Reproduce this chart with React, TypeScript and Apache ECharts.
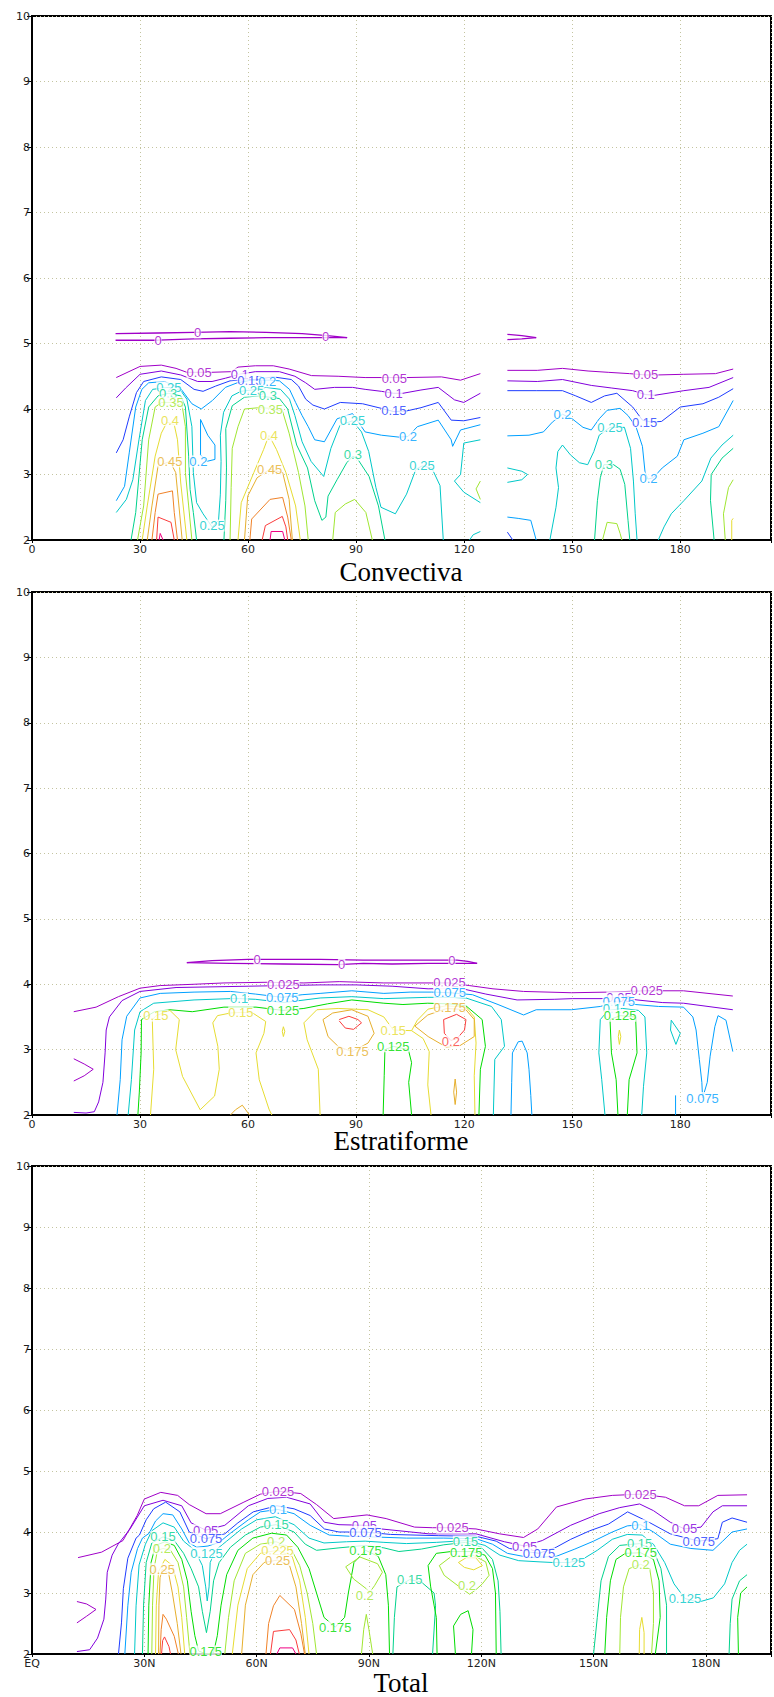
import React, { useEffect, useRef } from 'react';
import * as echarts from 'echarts';

type Line = { v: string; p: number[][] };

// ---------- tick labels ----------
const NUM_XTICKS = ['0', '30', '60', '90', '120', '150', '180'];
const LAT_XTICKS = ['EQ', '30N', '60N', '90N', '120N', '150N', '180N'];
const TITLES = ['Convectiva', 'Estratiforme', 'Total'];

// ---------- colours per contour level ----------
const CONV_COLORS: Record<string, string> = {
  '0': '#a000c8', '0.05': '#a000c8', '0.1': '#8200dc', '0.15': '#1e3cff', '0.2': '#00a0ff',
  '0.25': '#00c8c8', '0.3': '#00d28c', '0.35': '#a0e632', '0.4': '#e6dc32', '0.45': '#e6af2d',
  '0.5': '#f08228', '0.55': '#fa3c3c', '0.6': '#f00082',
};
const STRAT_COLORS: Record<string, string> = {
  '0': '#a000c8', '0.025': '#a000c8', '0.05': '#8200dc', '0.075': '#00a0ff', '0.1': '#00c8c8',
  '0.125': '#00dc00', '0.15': '#e6dc32', '0.175': '#e6af2d', '0.2': '#fa3c3c',
};
const TOTAL_COLORS: Record<string, string> = {
  '0.025': '#a000c8', '0.05': '#8200dc', '0.075': '#1e3cff', '0.1': '#00a0ff', '0.125': '#00c8c8',
  '0.15': '#00d28c', '0.175': '#00dc00', '0.2': '#a0e632', '0.225': '#e6dc32', '0.25': '#e6af2d',
  '0.275': '#f08228', '0.3': '#fa3c3c', '0.325': '#f00082',
};

// ---------- Convectiva contours (x: degrees, y: km) ----------
const CONV_LINES: Line[] = [
  { v: '0', p: [[23.2, 5.15], [35, 5.16], [45, 5.17], [55, 5.18], [65, 5.17], [75, 5.15], [82, 5.12], [87.5, 5.09]] },
  { v: '0', p: [[23.2, 5.05], [35, 5.05], [45, 5.07], [55, 5.08], [65, 5.09], [75, 5.09], [82, 5.09], [87.5, 5.09]] },
  { v: '0', p: [[132, 5.14], [136, 5.12], [140, 5.09]] },
  { v: '0', p: [[132, 5.06], [136, 5.07], [140, 5.09]] },
  { v: '0.05', p: [[23.4, 4.48], [30, 4.65], [35.9, 4.67], [40, 4.62], [43, 4.56], [49.7, 4.56], [55.4, 4.57], [57.2, 4.64], [62, 4.66], [67, 4.66], [71.4, 4.61], [77.6, 4.51], [85, 4.5], [92.5, 4.48], [97, 4.48], [104, 4.48], [113.7, 4.49], [119, 4.44], [124.5, 4.54]] },
  { v: '0.05', p: [[132, 4.59], [140.3, 4.59], [147.3, 4.62], [154.4, 4.58], [160, 4.56], [165.9, 4.54], [170.4, 4.52], [173.9, 4.52], [181, 4.53], [189.8, 4.54], [194.7, 4.61]] },
  { v: '0.1', p: [[23.4, 4.17], [26, 4.32], [30, 4.53], [35.9, 4.58], [41.3, 4.52], [46, 4.42], [50, 4.42], [53.7, 4.47], [57.7, 4.53], [62, 4.57], [68.7, 4.57], [73, 4.5], [76, 4.4], [78.5, 4.3], [84, 4.33], [89, 4.33], [92.5, 4.3], [97, 4.27], [100.4, 4.24], [103, 4.24], [108, 4.29], [112.8, 4.33], [117.3, 4.14], [119.9, 4.1], [124.5, 4.24]] },
  { v: '0.1', p: [[132, 4.43], [140.3, 4.42], [147.3, 4.45], [155.3, 4.36], [161, 4.32], [166.8, 4.28], [170.4, 4.22], [173, 4.21], [181, 4.28], [188, 4.33], [194.7, 4.48]] },
  { v: '0.15', p: [[23.4, 3.33], [25.3, 3.53], [27, 3.88], [29, 4.25], [31, 4.42], [35.9, 4.49], [41.3, 4.45], [45, 4.3], [47.5, 4.27], [51, 4.35], [55, 4.43], [59, 4.45], [62, 4.45], [67, 4.49], [72, 4.45], [74, 4.35], [76, 4.15], [78, 4.06], [81.2, 4.0], [85.6, 4.1], [91.8, 4.08], [97, 4.01], [100.5, 3.96], [104, 3.97], [108, 4.02], [112.8, 4.1], [116.4, 3.83], [119.9, 3.82], [124.5, 3.87]] },
  { v: '0.15', p: [[132, 4.28], [140, 4.28], [147.3, 4.28], [151, 4.2], [155.3, 4.1], [159, 4.2], [162.4, 4.24], [166.8, 4.03], [169.5, 3.83], [172, 3.8], [174.8, 3.81], [180, 4.03], [186.3, 4.08], [190.7, 4.18], [194.7, 4.31]] },
  { v: '0.15', p: [[132, 2.12], [133.5, 2.0]] },
  { v: '0.2', p: [[23.4, 2.6], [25.7, 2.82], [27, 3.33], [28.8, 4.03], [30.5, 4.3], [32.4, 4.4], [36.8, 4.42], [41.3, 4.31], [44.4, 4.08], [47, 4.0], [50.1, 4.13], [53.7, 4.33], [57, 4.4], [60.8, 4.44], [66, 4.44], [68.7, 4.43], [71.5, 4.3], [73.2, 4.1], [75, 3.9], [76.7, 3.73], [78.5, 3.53], [81.2, 3.5], [84.7, 3.85], [89, 3.93], [92.5, 3.65], [97, 3.6], [102, 3.57], [104.4, 3.58], [107, 3.73], [112.8, 3.83], [116.4, 3.53], [116.8, 3.43], [119, 3.68], [124.5, 3.76]] },
  { v: '0.2', p: [[46.8, 3.84], [48.8, 3.6], [50.8, 3.45], [50.8, 3.23], [48.5, 3.2], [46.8, 3.3], [46.8, 3.84]] },
  { v: '0.2', p: [[132, 3.59], [138, 3.6], [142, 3.65], [144.5, 3.8], [147.3, 3.92], [150, 3.85], [153, 3.72], [155.3, 3.68], [157.5, 3.85], [159.7, 3.98], [163.3, 4.01], [165.5, 3.9], [167.7, 3.73], [169.5, 3.43], [170.2, 3.05], [171, 2.93], [172.5, 2.95], [175, 3.1], [179.2, 3.28], [181, 3.53], [186.3, 3.63], [190.7, 3.73], [194.7, 4.13]] },
  { v: '0.2', p: [[132, 2.35], [135, 2.33], [138.5, 2.3], [140, 2.0]] },
  { v: '0.25', p: [[23.4, 2.42], [26.2, 2.62], [28, 2.92], [29.7, 3.53], [31.5, 4.13], [33.5, 4.3], [38, 4.33], [41.3, 4.28], [43, 4.15], [44.4, 3.73], [44.8, 3.03], [45.7, 2.57], [47.5, 2.4], [50, 2.2], [51.8, 2.3], [52.3, 2.7], [52.5, 3.2], [52.3, 3.6], [53.2, 3.95], [55.5, 4.2], [58, 4.27], [61, 4.29], [65, 4.33], [69, 4.3], [71.5, 4.15], [73, 3.9], [75, 3.5], [77.5, 3.2], [81, 2.97], [83, 3.4], [85.5, 3.75], [89, 3.82], [91.5, 3.65], [93.5, 3.35], [95.5, 2.8], [96.9, 2.5], [100.9, 2.4], [104, 2.7], [106.6, 3.08], [108.3, 3.13], [111, 3.1], [113.3, 2.83], [114.2, 2.0]] },
  { v: '0.25', p: [[124.5, 3.53], [119.9, 3.48], [119, 3.0], [117.3, 2.9], [119.9, 2.73], [124.5, 2.57]] },
  { v: '0.25', p: [[121.5, 2.0], [122.5, 2.08], [124.5, 2.13]] },
  { v: '0.25', p: [[132, 3.1], [136, 3.05], [137.6, 3.0], [136, 2.92], [132, 2.88]] },
  { v: '0.25', p: [[143.8, 2.0], [145.5, 2.5], [146.2, 2.8], [145.5, 3.1], [146, 3.35], [147.3, 3.45], [149.5, 3.3], [152, 3.18], [154.3, 3.15], [156, 3.35], [157.5, 3.6], [160.5, 3.72], [164.5, 3.72], [166.2, 3.4], [167, 2.9], [167.5, 2.4], [168, 2.0]] },
  { v: '0.25', p: [[173.9, 2.0], [175.5, 2.2], [177.5, 2.4], [181, 2.6], [186, 2.9], [188.5, 3.25], [191.6, 3.45], [194.7, 3.6]] },
  { v: '0.3', p: [[27.5, 2.0], [28.8, 2.42], [30.6, 3.53], [32.4, 4.03], [35, 4.2], [37.8, 4.24], [41.3, 4.2], [42.6, 4.03], [43.5, 3.28], [43.9, 2.77], [44.8, 2.42], [45.7, 2.0]] },
  { v: '0.3', p: [[53.3, 2.0], [53.8, 2.6], [54, 3.1], [53.8, 3.7], [55.6, 4.05], [59, 4.18], [63, 4.2], [68.7, 4.16], [71, 4.0], [73.5, 3.45], [76.5, 3.1], [78.5, 2.6], [80.5, 2.3], [81.6, 2.35], [82.2, 2.67], [84.7, 2.92], [87.4, 3.18], [89.1, 3.28], [90.5, 3.23], [93.6, 2.97], [96.2, 2.52], [98, 2.0]] },
  { v: '0.3', p: [[156.2, 2.0], [157, 2.6], [157.8, 2.95], [158.8, 3.15], [161.5, 3.15], [163.3, 3.08], [164.6, 2.85], [165.5, 2.3], [166, 2.0]] },
  { v: '0.3', p: [[189.4, 2.0], [188.4, 2.6], [188.6, 3.0], [191.6, 3.25], [194.7, 3.4]] },
  { v: '0.35', p: [[29.3, 2.0], [31, 2.52], [32.4, 3.53], [34.2, 4.03], [36, 4.1], [39, 4.1], [41.7, 4.05], [42.6, 3.73], [42.6, 3.03], [43.5, 2.52], [44.4, 2.0]] },
  { v: '0.35', p: [[55, 2.0], [55.3, 2.8], [55.6, 3.4], [57.2, 3.73], [59, 4.0], [63, 4.02], [66.5, 4.01], [69.6, 3.96], [71.4, 3.63], [74, 3.03], [75.8, 2.52], [76.7, 2.0]] },
  { v: '0.35', p: [[83.5, 2.0], [84.2, 2.42], [87, 2.55], [89.6, 2.62], [92.7, 2.42], [94.5, 2.0]] },
  { v: '0.35', p: [[124.5, 2.9], [123.3, 2.78], [124.5, 2.62]] },
  { v: '0.35', p: [[158.4, 2.0], [159.7, 2.27], [162.4, 2.25], [163.3, 2.1], [163.8, 2.0]] },
  { v: '0.35', p: [[192.5, 2.0], [192, 2.4], [193.4, 2.8], [194.7, 2.92]] },
  { v: '0.4', p: [[30.6, 2.0], [32, 2.52], [34.2, 3.28], [35.9, 3.63], [37.5, 3.8], [39.5, 3.76], [40.4, 3.53], [41.3, 2.87], [43, 2.0]] },
  { v: '0.4', p: [[57.2, 2.0], [58.1, 2.57], [61.6, 3.03], [64.3, 3.38], [65.8, 3.6], [67.9, 3.38], [70.5, 3.03], [73.2, 2.52], [74.5, 2.0]] },
  { v: '0.4', p: [[194.3, 2.0], [194.3, 2.3], [194.7, 2.33]] },
  { v: '0.45', p: [[32, 2.0], [33.3, 2.52], [35, 3.13], [38.3, 3.2], [39.9, 3.03], [40.8, 2.52], [41.7, 2.0]] },
  { v: '0.45', p: [[59, 2.0], [59.9, 2.67], [62.5, 2.95], [66, 3.08], [69.6, 3.03], [71.4, 2.62], [72.3, 2.0]] },
  { v: '0.5', p: [[33.3, 2.0], [34.2, 2.42], [35, 2.7], [39, 2.75], [39.5, 2.42], [40.4, 2.0]] },
  { v: '0.5', p: [[60.5, 2.0], [61, 2.32], [66.1, 2.62], [69.6, 2.65], [71, 2.35], [72, 2.0]] },
  { v: '0.55', p: [[34.6, 2.0], [35, 2.35], [38.6, 2.27], [39.5, 2.0]] },
  { v: '0.55', p: [[63.9, 2.0], [64.8, 2.22], [69.5, 2.36], [70.5, 2.2], [71, 2.0]] },
  { v: '0.6', p: [[35.3, 2.0], [35.6, 2.1], [36.4, 2.0]] },
  { v: '0.6', p: [[66.1, 2.0], [66.4, 2.13], [69.6, 2.13], [70.2, 2.0]] },
];
const CONV_LABELS: [number, number, string][] = [
  [35, 5.05, '0'], [46, 5.17, '0'], [81.5, 5.1, '0'],
  [46.4, 4.56, '0.05'], [100.6, 4.47, '0.05'], [170.4, 4.52, '0.05'],
  [57.7, 4.53, '0.1'], [100.4, 4.24, '0.1'], [170.4, 4.22, '0.1'],
  [60.5, 4.44, '0.15'], [100.5, 3.97, '0.15'], [170.1, 3.8, '0.15'],
  [65.3, 4.42, '0.2'], [46.2, 3.2, '0.2'], [104.4, 3.58, '0.2'], [147.3, 3.92, '0.2'], [171.2, 2.94, '0.2'],
  [38, 4.33, '0.25'], [50, 2.22, '0.25'], [89, 3.82, '0.25'], [108.3, 3.13, '0.25'], [160.5, 3.72, '0.25'], [61, 4.28, '0.25'],
  [37.8, 4.23, '0.3'], [65.5, 4.2, '0.3'], [89.1, 3.3, '0.3'], [158.8, 3.15, '0.3'],
  [38.6, 4.1, '0.35'], [66.2, 4.0, '0.35'],
  [38.3, 3.83, '0.4'], [65.8, 3.6, '0.4'],
  [38.3, 3.2, '0.45'], [66, 3.08, '0.45'],
];

// ---------- Estratiforme contours ----------
const STRAT_LINES: Line[] = [
  { v: '0', p: [[43, 4.33], [50, 4.36], [60, 4.38], [70, 4.38], [80, 4.38], [92, 4.37], [100, 4.37], [110, 4.37], [118, 4.37], [121, 4.35], [123.6, 4.32]] },
  { v: '0', p: [[43, 4.33], [55, 4.32], [70, 4.31], [85, 4.3], [92, 4.32], [100, 4.31], [110, 4.32], [118, 4.32], [123.6, 4.32]] },
  { v: '0.025', p: [[11.6, 3.58], [17.8, 3.65], [24, 3.81], [30, 3.94], [35.6, 3.98], [45, 4.0], [53.3, 4.02], [65, 4.03], [75.5, 4.02], [85.3, 4.04], [97.7, 4.02], [111, 4.02], [116, 4.02], [121.4, 3.98], [128, 3.93], [136.5, 3.89], [149.8, 3.87], [160, 3.88], [170.5, 3.9], [180.9, 3.9], [194.6, 3.82]] },
  { v: '0.025', p: [[11.6, 2.86], [14.5, 2.78], [17, 2.7], [14.5, 2.6], [11.6, 2.52]] },
  { v: '0.05', p: [[11.6, 2.04], [15, 2.03], [17.3, 2.05], [18.5, 2.2], [19.7, 2.5], [20.3, 2.95], [20.6, 3.3], [21.5, 3.5], [25, 3.75], [30, 3.89], [40, 3.95], [60, 3.97], [80, 3.99], [90, 3.99], [100, 3.97], [110, 3.93], [118.8, 3.94], [126, 3.85], [134.7, 3.76], [145, 3.77], [150, 3.78], [158, 3.78], [163, 3.8], [168, 3.76], [175, 3.72], [180.9, 3.71], [194.6, 3.61]] },
  { v: '0.075', p: [[23.6, 2.0], [24.5, 2.54], [25, 3.15], [26.3, 3.51], [30, 3.79], [35.6, 3.86], [45, 3.88], [55.1, 3.89], [62, 3.85], [69.5, 3.8], [75, 3.84], [80, 3.86], [88.8, 3.9], [97.7, 3.86], [105, 3.88], [111, 3.88], [116, 3.87], [122.3, 3.84], [129.4, 3.69], [136.5, 3.53], [140, 3.61], [149.8, 3.61], [157.8, 3.66], [162.9, 3.74], [167.6, 3.69], [174, 3.66], [180.9, 3.65], [183.5, 3.5], [184.4, 3.3], [185.3, 2.85], [186, 2.5], [186.2, 2.26], [187.5, 2.5], [188.3, 2.9], [189.6, 3.35], [190.5, 3.52], [192.7, 3.45], [194.6, 2.97]] },
  { v: '0.075', p: [[133, 2.0], [133.2, 2.5], [133.4, 2.95], [135, 3.12], [136.1, 3.13], [137.5, 2.95], [138, 2.7], [138.5, 2.3], [138.8, 2.0]] },
  { v: '0.075', p: [[178.7, 2.0], [178.7, 2.3]] },
  { v: '0.1', p: [[26.7, 2.0], [27.6, 2.54], [28.5, 3.3], [30, 3.58], [33.8, 3.71], [45, 3.76], [55.1, 3.78], [57.6, 3.78], [62, 3.77], [70, 3.72], [80, 3.79], [88.8, 3.81], [97.7, 3.78], [109.9, 3.8], [116, 3.8], [120.5, 3.79], [127.6, 3.66], [130.3, 3.46], [131.2, 3.05], [128.5, 2.85], [128.1, 2.0]] },
  { v: '0.1', p: [[159.1, 2.0], [158.2, 2.54], [157.4, 2.95], [157.8, 3.46], [160, 3.6], [164, 3.63], [168.4, 3.6], [170.2, 3.5], [170.7, 2.95], [169.8, 2.44], [169.3, 2.0]] },
  { v: '0.1', p: [[177.5, 3.45], [180, 3.25], [178.8, 3.08], [177.3, 3.3], [177.5, 3.45]] },
  { v: '0.125', p: [[29.4, 2.0], [29.8, 2.35], [30.3, 2.95], [30.4, 3.46], [34, 3.58], [38.3, 3.61], [44.5, 3.58], [53.3, 3.65], [62.2, 3.65], [69.7, 3.6], [75.5, 3.63], [82, 3.7], [88.8, 3.76], [97.7, 3.71], [103, 3.69], [109.9, 3.71], [116, 3.7], [120.5, 3.67], [125, 3.46], [125.9, 3.05], [124.5, 2.7], [124.1, 2.0]] },
  { v: '0.125', p: [[97.5, 2.0], [97.8, 2.6], [98, 3.0], [100.3, 3.05], [104.5, 3.0], [105.4, 2.8], [104.6, 2.5], [105.4, 2.0]] },
  { v: '0.125', p: [[162.7, 2.0], [162.2, 2.54], [160.9, 2.95], [160.5, 3.46], [163.3, 3.52], [167.6, 3.5], [168, 2.95], [165.8, 2.54], [165.3, 2.0]] },
  { v: '0.15', p: [[32.9, 2.0], [33.8, 2.7], [33.4, 3.46], [34.5, 3.52], [38.3, 3.6], [40.9, 3.46], [39.9, 3.0], [41.8, 2.59], [46.7, 2.08], [50.7, 2.29], [52, 2.7], [51.6, 3.05], [50.2, 3.41], [51.5, 3.52], [55.1, 3.56], [58, 3.57], [61.3, 3.56], [64.9, 3.43], [64.4, 3.25], [62.2, 2.95], [63.1, 2.54], [65.8, 2.09], [66.6, 2.0]] },
  { v: '0.15', p: [[80, 2.0], [79.5, 2.7], [76.4, 3.15], [75.5, 3.41], [79.1, 3.61], [85, 3.63], [93.3, 3.61], [97.7, 3.5], [100.3, 3.3], [105.4, 3.29], [108.6, 3.17], [110.3, 2.97], [109.9, 2.46], [110.8, 2.0]] },
  { v: '0.15', p: [[123, 2.0], [122.8, 2.6], [123.3, 3.1], [122.8, 3.5], [120.5, 3.65], [115, 3.67], [110, 3.62], [107, 3.45], [105.4, 3.29]] },
  { v: '0.15', p: [[69.8, 3.35], [70.2, 3.28], [69.8, 3.2], [69.5, 3.28], [69.8, 3.35]] },
  { v: '0.15', p: [[163.1, 3.3], [163.5, 3.2], [163.1, 3.08], [162.8, 3.2], [163.1, 3.3]] },
  { v: '0.175', p: [[55.1, 2.0], [56.5, 2.08], [58.4, 2.15], [60.4, 2.0]] },
  { v: '0.175', p: [[80.8, 3.46], [83.5, 3.56], [88.8, 3.61], [93.3, 3.51], [95, 3.25], [93.3, 3.1], [88.8, 2.97], [85, 3.05], [82.2, 3.2], [80.8, 3.46]] },
  { v: '0.175', p: [[106.3, 3.36], [109.9, 3.53], [115.2, 3.63], [120.5, 3.61], [122.8, 3.46], [122.8, 3.2], [118.8, 3.06], [115, 3.04], [110, 3.2], [106.3, 3.36]] },
  { v: '0.175', p: [[117.5, 2.55], [117.9, 2.35], [117.5, 2.16], [117.1, 2.35], [117.5, 2.55]] },
  { v: '0.2', p: [[85.3, 3.46], [88, 3.51], [90.5, 3.46], [91.5, 3.41], [89.3, 3.31], [87, 3.33], [85.3, 3.44]] },
  { v: '0.2', p: [[114.3, 3.46], [117.9, 3.54], [120.5, 3.46], [120.1, 3.3], [118, 3.17], [116.3, 3.14], [114.5, 3.25], [114.3, 3.46]] },
];
const STRAT_LABELS: [number, number, string][] = [
  [62.5, 4.38, '0'], [86, 4.3, '0'], [116.6, 4.37, '0'],
  [69.8, 4.0, '0.025'], [115.9, 4.02, '0.025'], [170.7, 3.9, '0.025'],
  [163, 3.8, '0.05'],
  [69.5, 3.8, '0.075'], [116, 3.88, '0.075'], [162.9, 3.74, '0.075'], [186.2, 2.26, '0.075'],
  [57.5, 3.78, '0.1'], [161, 3.63, '0.1'],
  [69.7, 3.6, '0.125'], [100.3, 3.05, '0.125'], [163.3, 3.52, '0.125'],
  [34.4, 3.52, '0.15'], [58, 3.57, '0.15'], [100.3, 3.3, '0.15'],
  [89, 2.97, '0.175'], [116, 3.65, '0.175'],
  [116.3, 3.13, '0.2'],
];

// ---------- Total contours ----------
const TOTAL_LINES: Line[] = [
  { v: '0.025', p: [[12.3, 3.58], [18.6, 3.67], [24.3, 3.86], [28.1, 4.27], [30, 4.54], [34.4, 4.65], [38.9, 4.6], [42, 4.45], [46.5, 4.3], [50.3, 4.3], [56.6, 4.49], [61, 4.62], [65.8, 4.67], [71.8, 4.63], [76, 4.45], [80.6, 4.22], [85, 4.25], [89.5, 4.28], [94.6, 4.22], [102.2, 4.08], [107, 4.07], [112.3, 4.07], [118.6, 4.05], [124.9, 3.97], [131.3, 3.91], [135.1, 4.05], [140.1, 4.41], [147.7, 4.54], [155, 4.6], [162.5, 4.62], [169.2, 4.57], [174.3, 4.43], [178.1, 4.43], [183.2, 4.6], [191, 4.61]] },
  { v: '0.025', p: [[12, 2.86], [14.6, 2.82], [17.1, 2.73], [14.6, 2.62], [12, 2.51]] },
  { v: '0.05', p: [[12, 2.04], [15.4, 2.07], [17.5, 2.26], [19.2, 2.57], [19.7, 2.9], [20.1, 3.34], [21.4, 3.62], [23, 3.8], [26.2, 4.05], [30, 4.43], [35, 4.52], [40, 4.43], [42.5, 4.15], [46.4, 4.03], [51.5, 4.11], [57.8, 4.43], [63, 4.55], [68, 4.57], [74.3, 4.46], [78.1, 4.16], [82, 4.12], [88.8, 4.11], [93.3, 4.05], [106, 3.97], [118.6, 3.97], [126.2, 3.84], [131.6, 3.77], [136.3, 3.86], [143.9, 4.11], [151.5, 4.3], [157, 4.4], [162.3, 4.46], [166, 4.35], [170.5, 4.16], [174.3, 4.05], [178.7, 4.08], [181.9, 4.33], [184.4, 4.43], [191, 4.43]] },
  { v: '0.075', p: [[23.1, 2.0], [23.9, 2.51], [24.4, 3.07], [25.6, 3.57], [27.8, 3.9], [28.7, 3.95], [30.5, 4.2], [32.5, 4.38], [35.7, 4.49], [39.5, 4.33], [42, 4.0], [46.5, 3.89], [51.5, 3.97], [55, 4.15], [59.1, 4.33], [65.4, 4.43], [70, 4.38], [74.3, 4.27], [78.1, 4.05], [82, 4.0], [89, 4.0], [95.8, 3.96], [108.5, 3.94], [118.6, 3.93], [124, 3.85], [127.5, 3.73], [135.4, 3.65], [140, 3.75], [143.9, 3.88], [149, 4.02], [154, 4.13], [159.1, 4.33], [164.2, 4.18], [170.5, 3.97], [178.1, 3.85], [183.2, 3.89], [184.4, 4.16], [187, 4.23], [191, 4.16]] },
  { v: '0.1', p: [[24.8, 2.0], [25.6, 2.79], [26.5, 3.34], [28.2, 3.73], [29.5, 3.9], [31.3, 3.98], [33, 4.18], [35, 4.3], [37.6, 4.28], [40, 4.05], [42, 3.82], [44, 3.75], [47, 3.77], [50, 3.83], [53, 3.98], [57.8, 4.2], [61, 4.33], [65.7, 4.37], [70, 4.3], [74.3, 4.11], [79.4, 3.95], [85, 3.93], [90.8, 3.92], [100, 3.9], [110, 3.9], [118.6, 3.89], [123, 3.8], [127, 3.65], [133, 3.58], [140, 3.6], [145, 3.72], [150, 3.85], [155, 4.0], [159, 4.1], [162.6, 4.12], [166, 4.0], [170.5, 3.8], [176, 3.73], [181.9, 3.7], [184.5, 3.85], [187, 4.0], [191, 4.05]] },
  { v: '0.125', p: [[27.4, 2.0], [27.8, 2.79], [28.6, 3.46], [30.3, 3.8], [32, 4.02], [35, 4.15], [38, 4.08], [40.5, 3.85], [43.5, 3.7], [45.5, 3.45], [46.4, 3.1], [46.8, 2.87], [47.3, 3.1], [47.6, 3.5], [49, 3.7], [52, 3.85], [56, 4.05], [60, 4.2], [65, 4.25], [70, 4.12], [74, 3.9], [78, 3.82], [84, 3.84], [89, 3.85], [94, 3.83], [100, 3.81], [108, 3.83], [116, 3.86], [121, 3.78], [125, 3.62], [130, 3.53], [135.7, 3.51], [139.1, 3.5], [143.4, 3.5], [147, 3.55], [151, 3.7], [155, 3.88], [159, 3.96], [163, 3.95], [166, 3.8], [169, 3.5], [171.5, 3.15], [174.4, 2.91], [178, 2.85], [182, 2.92], [185, 3.15], [187, 3.5], [189, 3.7], [191, 3.8]] },
  { v: '0.15', p: [[29.5, 2.0], [29.8, 2.8], [30.5, 3.5], [32, 3.82], [35, 3.92], [38, 3.86], [40.5, 3.65], [42.5, 3.4], [44.5, 3.1], [45.5, 2.7], [46.6, 2.35], [47.6, 2.7], [48.5, 3.2], [50, 3.5], [53, 3.75], [57, 3.95], [61, 4.08], [65.2, 4.12], [70, 4.0], [73, 3.8], [76, 3.7], [82, 3.74], [89, 3.78], [94, 3.74], [98, 3.68], [104, 3.72], [110, 3.79], [115.8, 3.83], [120, 3.75], [123, 3.55], [124.5, 3.2], [125, 2.7], [125.3, 2.0]] },
  { v: '0.15', p: [[96.4, 2.0], [96.8, 2.6], [97.5, 3.1], [100.9, 3.22], [104, 3.18], [107.4, 3.0], [107.8, 2.79], [107, 2.0]] },
  { v: '0.15', p: [[150, 2.0], [151, 2.6], [152, 3.2], [154, 3.6], [157, 3.78], [162.3, 3.81], [166, 3.7], [168, 3.4], [169.5, 2.8], [169.5, 2.0]] },
  { v: '0.15', p: [[186.2, 2.0], [186.5, 2.5], [187, 2.9], [189, 3.2], [191, 3.3]] },
  { v: '0.175', p: [[31, 2.0], [31.2, 2.8], [31.8, 3.5], [33, 3.78], [35.5, 3.84], [38, 3.78], [40, 3.55], [41.5, 3.2], [42.5, 2.7], [43.5, 2.3], [44.5, 2.05], [46.5, 2.0], [48.5, 2.02], [49.5, 2.3], [50.5, 2.8], [52, 3.3], [55, 3.7], [59, 3.9], [64, 3.98], [68, 3.95], [71, 3.75], [74, 3.4], [76, 3.0], [78, 2.6], [81, 2.44], [83.5, 2.6], [84.5, 3.0], [86, 3.5], [89.1, 3.7], [92.5, 3.6], [94.5, 3.3], [95.2, 2.8], [95.5, 2.0]] },
  { v: '0.175', p: [[108.2, 2.0], [108, 2.6], [106.5, 3.1], [105.8, 3.45], [108, 3.65], [112, 3.68], [117.5, 3.68], [121, 3.62], [123, 3.4], [123.8, 3.0], [124, 2.0]] },
  { v: '0.175', p: [[113.1, 2.0], [112.6, 2.46], [114.5, 2.65], [116.5, 2.71], [117.8, 2.4], [117.4, 2.0]] },
  { v: '0.175', p: [[153, 2.0], [153.5, 2.6], [154.5, 3.2], [156, 3.55], [158.5, 3.65], [162.6, 3.66], [166, 3.55], [167.5, 3.2], [167.8, 2.6], [166.5, 2.0]] },
  { v: '0.175', p: [[188.7, 2.0], [188.5, 2.6], [189.3, 3.0], [191, 3.1]] },
  { v: '0.2', p: [[32, 2.0], [32.2, 2.8], [32.6, 3.4], [33.5, 3.7], [35, 3.73], [37, 3.7], [39, 3.5], [40.5, 3.1], [41.3, 2.6], [42.2, 2.0]] },
  { v: '0.2', p: [[51.5, 2.0], [52.5, 2.6], [54, 3.2], [57, 3.65], [61, 3.8], [65.2, 3.84], [69, 3.75], [71.5, 3.45], [73.5, 3.0], [75, 2.5], [76, 2.0]] },
  { v: '0.2', p: [[83.8, 3.43], [87.6, 3.59], [92.3, 3.48], [93.6, 3.34], [91.5, 3.12], [90.2, 3.01], [89.3, 3.07], [85.9, 3.23], [83.8, 3.43]] },
  { v: '0.2', p: [[88, 2.0], [88.6, 2.4], [89.3, 2.65], [90, 2.4], [91, 2.0]] },
  { v: '0.2', p: [[108.8, 3.45], [111.8, 3.59], [117.8, 3.62], [121.2, 3.51], [122.1, 3.29], [120.3, 3.15], [118.5, 3.05], [116.9, 2.98], [114.4, 3.09], [110.1, 3.29], [108.8, 3.45]] },
  { v: '0.2', p: [[157, 2.0], [157.2, 2.6], [158, 3.1], [159.5, 3.4], [162.6, 3.47], [165, 3.4], [166, 3.0], [166, 2.5], [165.5, 2.0]] },
  { v: '0.225', p: [[33, 2.0], [33.2, 2.8], [33.8, 3.35], [35.5, 3.55], [37.5, 3.45], [39, 3.1], [40, 2.6], [40.8, 2.0]] },
  { v: '0.225', p: [[53.5, 2.0], [55, 2.8], [57.5, 3.4], [61, 3.65], [65.6, 3.7], [69.5, 3.6], [71.5, 3.2], [73, 2.6], [74, 2.0]] },
  { v: '0.225', p: [[113.9, 3.5], [116, 3.58], [118.5, 3.58], [120.3, 3.45], [118, 3.38], [115.5, 3.42], [113.9, 3.5]] },
  { v: '0.225', p: [[162.2, 2.0], [162.3, 2.4], [162.9, 2.6], [163.5, 2.35], [163.5, 2.0]] },
  { v: '0.25', p: [[33.8, 2.0], [33.9, 2.8], [34.2, 3.25], [34.8, 3.39], [36.5, 3.32], [37.5, 3.0], [38.8, 2.5], [39.8, 2.0]] },
  { v: '0.25', p: [[56, 2.0], [57, 2.8], [59, 3.3], [62, 3.5], [65.6, 3.54], [68.8, 3.45], [70.5, 3.1], [72, 2.5], [73, 2.0]] },
  { v: '0.275', p: [[34.2, 2.0], [34.5, 2.4], [35, 2.65], [35.9, 2.57], [38, 2.29], [39.1, 2.0]] },
  { v: '0.275', p: [[62.5, 2.0], [63.2, 2.5], [64.5, 2.79], [66.2, 2.96], [70.1, 2.73], [71.8, 2.34], [72.8, 2.0]] },
  { v: '0.3', p: [[34.6, 2.0], [34.9, 2.22], [35.4, 2.28], [36.6, 2.12], [37, 2.0]] },
  { v: '0.3', p: [[63.7, 2.0], [64.5, 2.37], [68.8, 2.4], [70.5, 2.23], [71.4, 2.0]] },
  { v: '0.325', p: [[65.4, 2.0], [66.2, 2.1], [69.6, 2.1], [70.5, 2.0]] },
];
const TOTAL_LABELS: [number, number, string][] = [
  [65.7, 4.67, '0.025'], [112.3, 4.07, '0.025'], [162.5, 4.62, '0.025'],
  [46.4, 4.03, '0.05'], [88.8, 4.11, '0.05'], [131.6, 3.77, '0.05'], [174.3, 4.05, '0.05'],
  [46.5, 3.89, '0.075'], [89.1, 4.0, '0.075'], [135.4, 3.65, '0.075'], [178.1, 3.85, '0.075'],
  [65.7, 4.37, '0.1'], [162.5, 4.11, '0.1'],
  [46.6, 3.65, '0.125'], [143.4, 3.5, '0.125'], [174.4, 2.91, '0.125'],
  [35, 3.92, '0.15'], [65.2, 4.12, '0.15'], [100.9, 3.22, '0.15'], [115.8, 3.84, '0.15'], [162.3, 3.81, '0.15'],
  [46.4, 2.04, '0.175'], [81, 2.44, '0.175'], [89.1, 3.7, '0.175'], [116, 3.67, '0.175'], [162.6, 3.66, '0.175'],
  [34.7, 3.73, '0.2'], [65.2, 3.84, '0.2'], [88.9, 2.96, '0.2'], [116.2, 3.13, '0.2'], [162.6, 3.47, '0.2'],
  [65.6, 3.7, '0.225'],
  [34.8, 3.39, '0.25'], [65.6, 3.54, '0.25'],
];

// ---------- layout ----------
const PANELS = [
  { top: 16, height: 524, xmax: 205.2, ticks: NUM_XTICKS, lines: CONV_LINES, labels: CONV_LABELS, colors: CONV_COLORS, titleY: 572 },
  { top: 592, height: 523, xmax: 205.2, ticks: NUM_XTICKS, lines: STRAT_LINES, labels: STRAT_LABELS, colors: STRAT_COLORS, titleY: 1141 },
  { top: 1166, height: 488, xmax: 197.4, ticks: LAT_XTICKS, lines: TOTAL_LINES, labels: TOTAL_LABELS, colors: TOTAL_COLORS, titleY: 1683 },
];

const GRID_DOT = { color: '#c4c4a0', type: [1, 3] as any, width: 1 };

export default function App() {
  const ref = useRef<HTMLDivElement>(null);
  useEffect(() => {
    if (!ref.current) return;
    const chart = echarts.init(ref.current, undefined, { renderer: 'svg' });
    const grids: any[] = [];
    const xAxes: any[] = [];
    const yAxes: any[] = [];
    const series: any[] = [];
    const graphics: any[] = [];
    PANELS.forEach((pn, i) => {
      grids.push({ left: 32, top: pn.top, width: 770, height: pn.height, show: true, borderColor: '#000', borderWidth: 2, backgroundColor: 'transparent' });
      xAxes.push({
        gridIndex: i, type: 'value', min: 0, max: pn.xmax, interval: 30,
        axisLine: { show: true, onZero: false, lineStyle: { color: '#000', width: 2 } },
        axisTick: { show: true, length: 3, lineStyle: { color: '#000' } },
        axisLabel: {
          color: '#222', fontSize: 11, fontFamily: 'DejaVu Sans', margin: 4,
          formatter: (v: number) => (Math.abs(v % 30) < 1e-6 ? pn.ticks[Math.round(v / 30)] ?? '' : ''),
        },
        splitLine: { show: true, lineStyle: GRID_DOT },
      });
      yAxes.push({
        gridIndex: i, type: 'value', min: 2, max: 10, interval: 1,
        axisLine: { show: true, onZero: false, lineStyle: { color: '#000', width: 2 } },
        axisTick: { show: true, length: 5, lineStyle: { color: '#000' } },
        axisLabel: { color: '#222', fontSize: 11, fontFamily: 'DejaVu Sans', margin: 2 },
        splitLine: { show: true, lineStyle: GRID_DOT },
      });
      pn.lines.forEach((ln) => {
        series.push({
          type: 'line', xAxisIndex: i, yAxisIndex: i, data: ln.p, symbol: 'none', showSymbol: false,
          silent: true, z: 3, lineStyle: { color: pn.colors[ln.v], width: ln.v === '0' ? 1.3 : 1 },
        });
      });
      series.push({
        type: 'scatter', xAxisIndex: i, yAxisIndex: i, symbolSize: 1, silent: true, z: 6,
        itemStyle: { color: 'transparent' },
        data: pn.labels.map(([x, y, t]) => ({ name: t, value: [x, y], label: { color: pn.colors[t] } })),
        label: {
          show: true, position: 'inside', formatter: '{b}', fontSize: 13,
          fontFamily: 'Liberation Sans, Arial, sans-serif', backgroundColor: '#fff', padding: [0, 0], lineHeight: 12,
        },
      });
      graphics.push({
        type: 'text', x: 401, y: pn.titleY, silent: true,
        style: { text: TITLES[i], font: '27px "Liberation Serif", "Times New Roman", serif', fill: '#000', textAlign: 'center', textVerticalAlign: 'middle' },
      });
    });
    chart.setOption({
      animation: false,
      backgroundColor: '#fff',
      grid: grids, xAxis: xAxes, yAxis: yAxes, series, graphic: graphics,
    });
    return () => chart.dispose();
  }, []);
  return <div ref={ref} style={{ position: 'absolute', left: 0, top: 0, width: 774, height: 1697, overflow: 'hidden' }} />;
}
